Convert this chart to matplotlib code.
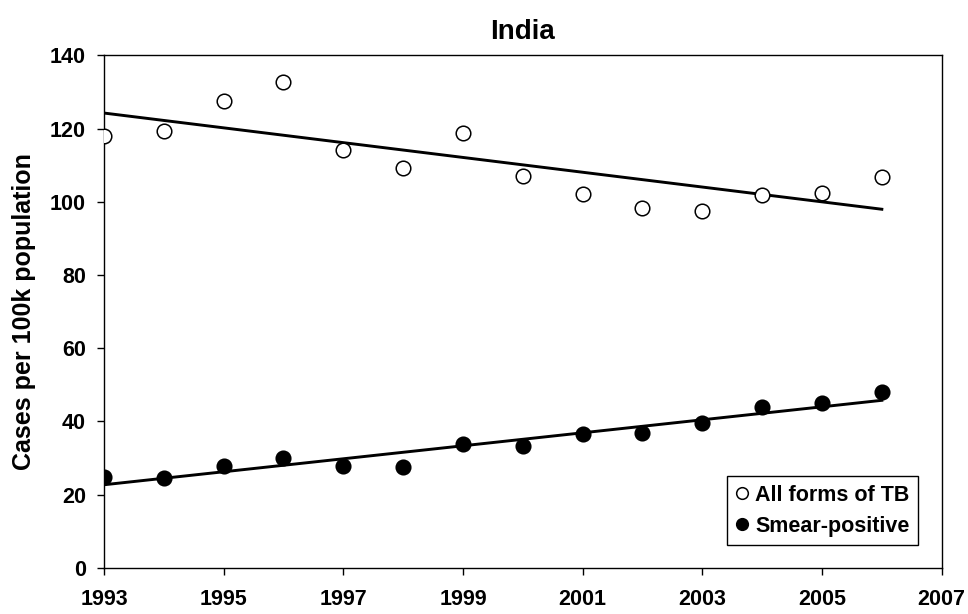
import numpy as np
import matplotlib
matplotlib.use('Agg')
import matplotlib.pyplot as plt

plt.rcParams['font.family'] = ['Liberation Sans', 'DejaVu Sans']
plt.rcParams['font.weight'] = 'bold'

years = [1993, 1994, 1995, 1996, 1997, 1998, 1999, 2000, 2001, 2002, 2003, 2004, 2005, 2006]
all_forms = [117.9, 119.2, 127.6, 132.7, 114.1, 109.1, 118.8, 106.9, 102.2, 98.2, 97.5, 101.9, 102.3, 106.8]
smear_pos = [24.9, 24.4, 27.9, 29.9, 27.9, 27.5, 33.7, 33.2, 36.4, 36.7, 39.5, 43.8, 44.9, 48.1]

xticks = [1993, 1995, 1997, 1999, 2001, 2003, 2005, 2007]
yticks = [0, 20, 40, 60, 80, 100, 120, 140]


def trend(x, y):
    # straight least-squares line through the yearly points
    k, b = np.polyfit(x, y, 1)
    x = np.array(x)
    return x, k * x + b


fig = plt.figure(figsize=(9.68, 6.14), dpi=100)
ax = fig.add_axes([0.1074, 0.0754, 0.8654, 0.8345])

tx, ty = trend(years, all_forms)
ax.plot(tx, ty, color='black', lw=2.1, zorder=2)
tx, ty = trend(years, smear_pos)
ax.plot(tx, ty, color='black', lw=2.1, zorder=2)

ax.plot(years, all_forms, 'o', ms=10.5, mfc='white', mec='black', mew=1.1,
        label='All forms of TB', zorder=3)
ax.plot(years, smear_pos, 'o', ms=10.5, mfc='black', mec='black', mew=1.1,
        label='Smear-positive', zorder=3)

ax.set_xlim(1993, 2007)
ax.set_ylim(0, 140)
ax.set_xticks(xticks)
ax.set_yticks(yticks)
ax.tick_params(axis='both', direction='out', length=5, width=1, labelsize=15.5)
ax.tick_params(axis='x', pad=10)
ax.tick_params(axis='y', pad=8)
for lbl in ax.get_xticklabels() + ax.get_yticklabels():
    lbl.set_fontweight('bold')
for s in ax.spines.values():
    s.set_linewidth(1)

ax.set_ylabel('Cases per 100k population', fontsize=18, fontweight='bold', labelpad=10)
ax.set_title('India', fontsize=20, fontweight='bold', pad=12)

leg = ax.legend(loc='lower right', bbox_to_anchor=(0.972, 0.044), borderaxespad=0,
                fancybox=False, edgecolor='black', framealpha=1, markerscale=0.8,
                handlelength=0.6, handletextpad=0.3, borderpad=0.4, labelspacing=0.45,
                prop={'size': 15.5, 'weight': 'bold'})
leg.get_frame().set_linewidth(1)

fig.savefig('out.png', dpi=100)
